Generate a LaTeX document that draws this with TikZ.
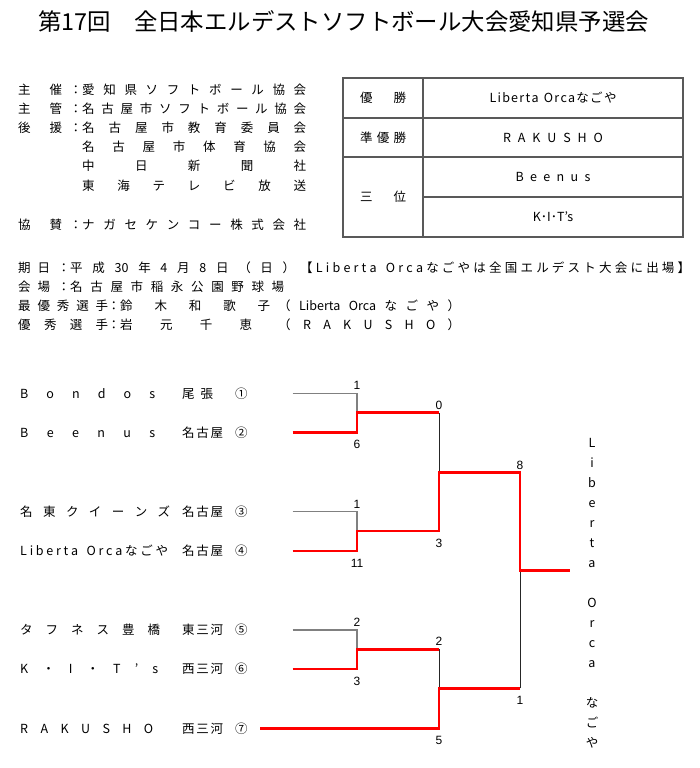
\documentclass[tikz,border=0pt]{standalone}
\usepackage{fontspec}
\setmainfont{Noto Sans CJK JP}
\newfontfamily\scorefont{Liberation Sans}
\usetikzlibrary{positioning}

% spread the characters of #2 evenly over the width #1
\newcommand{\spreadtext}[2]{\makebox[#1][s]{\spreadA#2\relax}}
\def\spreadA#1{#1\futurelet\spnext\spreadB}
\def\spreadB{\ifx\spnext\relax\expandafter\spreadC\else\hfill\expandafter\spreadA\fi}
\def\spreadC#1{}
% label with colon
\newcommand{\lbl}[2][44pt]{\spreadtext{#1}{#2}\makebox[20pt][r]{：}}
% team row: name, district, seed
\newcommand{\team}[3]{\makebox[162pt][l]{#1}\makebox[53pt][l]{#2}#3}

\begin{document}
\begin{tikzpicture}[
  x=1pt, y=-1pt,
  txt/.style   = {anchor=west, inner sep=0pt, font=\fontsize{12.5}{14}\selectfont},
  ctr/.style   = {inner sep=0pt, font=\fontsize{12.5}{14}\selectfont},
  cell/.style  = {draw=black!65, line width=1.5pt, inner sep=0pt,
                  font=\fontsize{12.5}{14}\selectfont},
  score/.style = {anchor=base, inner sep=0pt, font=\scorefont\fontsize{12}{14}\selectfont},
  scup/.style  = {score, yshift=3.5pt},
  scdn/.style  = {score, yshift=-16.5pt},
  grayline/.style = {draw=black!50, line width=1.4pt},
  blkline/.style  = {draw=black!85, line width=0.9pt},
  redline/.style  = {draw=red, line width=2.6pt}
]
\useasboundingbox (0,0) rectangle (700,768);

\node[inner sep=0pt, font=\fontsize{23.4}{26}\selectfont] (title) at (343.5,22)
  {第17回　全日本エルデストソフトボール大会愛知県予選会};

% organisers
\node[txt] (host)  at (18,90)  {\lbl{主催}\spreadtext{224pt}{愛知県ソフトボール協会}};
\node[txt] (mgr)   at (18,109) {\lbl{主管}\spreadtext{224pt}{名古屋市ソフトボール協会}};
\node[txt] (sup1)  at (18,128) {\lbl{後援}\spreadtext{224pt}{名古屋市教育委員会}};
\node[txt] (sup2)  at (82,147) {\spreadtext{224pt}{名古屋市体育協会}};
\node[txt] (sup3)  at (82,166) {\spreadtext{224pt}{中日新聞社}};
\node[txt] (sup4)  at (82,186) {\spreadtext{224pt}{東海テレビ放送}};
\node[txt] (spons) at (18,225) {\lbl{協賛}\spreadtext{224pt}{ナガセケンコー株式会社}};

% results table
\node[cell, minimum width=80pt,  minimum height=40pt] (k1) at (383,98)    {\spreadtext{46pt}{優勝}};
\node[cell, minimum width=260pt, minimum height=40pt] (v1) at (553,98)    {\spreadtext{127pt}{Liberta{\ }Orcaなごや}};
\node[cell, minimum width=80pt,  minimum height=39pt] (k2) at (383,137.5) {\spreadtext{46pt}{準優勝}};
\node[cell, minimum width=260pt, minimum height=39pt] (v2) at (553,137.5) {\spreadtext{100pt}{RAKUSHO}};
\node[cell, minimum width=80pt,  minimum height=80pt] (k3) at (383,197)   {\spreadtext{46pt}{三位}};
\node[cell, minimum width=260pt, minimum height=40pt] (v3) at (553,177)   {\spreadtext{75pt}{Beenus}};
\node[cell, minimum width=260pt, minimum height=40pt] (v4) at (553,217)   {K･I･T’s};

% date and awards
\node[txt] (date)  at (18,268) {\lbl[32pt]{期日}\spreadtext{225pt}{平成{30}年4月8日（日）}};
\node[txt] (nat)   at (300,268) {\spreadtext{390pt}{【Liberta{\ }Orcaなごやは全国エルデスト大会に出場】}};
\node[txt] (venue) at (18,287) {\lbl[32pt]{会場}\spreadtext{214pt}{名古屋市稲永公園野球場}};
\node[txt] (mvp)   at (18,306) {\spreadtext{90pt}{最優秀選手}\makebox[12pt][r]{：}%
  \spreadtext{150pt}{鈴木和歌子}\hspace{8pt}\spreadtext{182pt}{（{Liberta}{Orca}なごや）}};
\node[txt] (best)  at (18,325) {\spreadtext{90pt}{優秀選手}\makebox[12pt][r]{：}%
  \spreadtext{132pt}{岩元千恵}\hspace{26pt}\spreadtext{182pt}{（RAKUSHO）}};

% teams
\node[txt] (t1) at (20,393.3) {\team{\spreadtext{135pt}{Bondos}}{\spreadtext{31pt}{尾張}}{①}};
\node[txt] (t2) at (20,432.3) {\team{\spreadtext{135pt}{Beenus}}{\spreadtext{41pt}{名古屋}}{②}};
\node[txt] (t3) at (20,511.7) {\team{\spreadtext{150pt}{名東クイーンズ}}{\spreadtext{41pt}{名古屋}}{③}};
\node[txt] (t4) at (20,551)   {\team{\spreadtext{148pt}{Liberta{\ }Orcaなごや}}{\spreadtext{41pt}{名古屋}}{④}};
\node[txt] (t5) at (20,630)   {\team{\spreadtext{140pt}{タフネス豊橋}}{\spreadtext{41pt}{東三河}}{⑤}};
\node[txt] (t6) at (20,669)   {\team{\spreadtext{138pt}{K・I・T’s}}{\spreadtext{41pt}{西三河}}{⑥}};
\node[txt] (t7) at (20,728.3) {\team{\spreadtext{133pt}{RAKUSHO}}{\spreadtext{41pt}{西三河}}{⑦}};

% bracket points
\coordinate (e1) at (292.7,393.3);
\coordinate (e2) at (292.7,432.3);
\coordinate (e3) at (292.7,511.7);
\coordinate (e4) at (292.7,551);
\coordinate (e5) at (292.7,630);
\coordinate (e6) at (292.7,669);
\coordinate (e7) at (260,728.3);
\coordinate (r1) at (357,412.7);
\coordinate (r2) at (357,531);
\coordinate (r3) at (357,649.3);
\coordinate (q1) at (439,472.7);
\coordinate (q2) at (439,688.3);
\coordinate (f)  at (520,570.7);
\coordinate (fin) at (570,570.7);

\draw[grayline] (e1) -| (r1);
\draw[grayline] (e3) -| (r2);
\draw[grayline] (e5) -| (r3);
\draw[blkline] (r1 -| q1) -- (q1);
\draw[blkline] (r3 -| q2) -- (q2);
\draw[blkline] (q2 -| f) -- (f);
\draw[redline] (e2) -| (r1) -- (r1 -| q1);
\draw[redline] (e6) -| (r3) -- (r3 -| q2);
\draw[redline] (e7) -| (q2) -- (q2 -| f);
\draw[redline] (e4) -| (r2) -| (q1) -| (f) -- (fin);

% scores
\node[scup] (s1)  at (r1 |- e1) {1};
\node[scdn] (s2)  at (r1 |- e2) {6};
\node[scup] (s3)  at (r2 |- e3) {1};
\node[scdn] (s4)  at (r2 |- e4) {11};
\node[scup] (s5)  at (r3 |- e5) {2};
\node[scdn] (s6)  at (r3 |- e6) {3};
\node[scup] (s7)  at (r1 -| q1) {0};
\node[scdn] (s8)  at (r2 -| q1) {3};
\node[scup] (s9)  at (r3 -| q2) {2};
\node[scdn] (s10) at (q2 |- e7) {5};
\node[scup] (s11) at (q1 -| f)  {8};
\node[scdn] (s12) at (q2 -| f)  {1};

% champion, written top to bottom
\foreach \ch [count=\i] in {L,i,b,e,r,t,a,,O,r,c,a,,な,ご,や}
  \node[ctr, anchor=base] (w\i) at (592,427.5+20*\i) {\ch};
\end{tikzpicture}
\end{document}
